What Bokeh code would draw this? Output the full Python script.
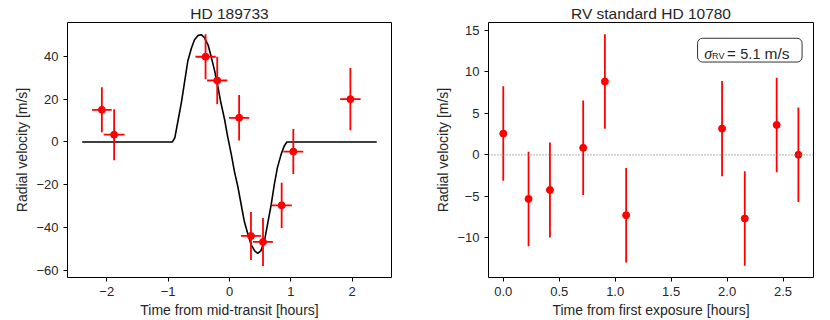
import numpy as np
from bokeh.plotting import figure
from bokeh.layouts import row
from bokeh.models import Range1d, Label, BoxAnnotation, Span, FixedTicker
from bokeh.embed import file_html
from bokeh.resources import INLINE

# ---------------- Data: HD 189733 (left panel) ----------------
t_hd = [-2.08, -1.88, -0.39, -0.20, 0.157, 0.35, 0.546, 0.85, 1.04, 1.97]
t_hd_err = [0.16, 0.17, 0.165, 0.165, 0.165, 0.162, 0.162, 0.165, 0.162, 0.167]
rv_hd = [15.0, 3.4, 39.8, 28.7, 11.3, -43.9, -46.7, -29.6, -4.5, 20.0]
rv_hd_err = [10.5, 11.9, 10.5, 11.1, 10.6, 11.2, 11.2, 10.6, 10.5, 14.5]

# model curve
t_model = [-2.4, -0.93, -0.89, -0.84, -0.78, -0.73, -0.68, -0.62, -0.57, -0.51,
           -0.46, -0.41, -0.35, -0.30, -0.24, -0.19, -0.14, -0.08, -0.03, 0.03,
           0.08, 0.14, 0.19, 0.24, 0.30, 0.35, 0.41, 0.46, 0.51, 0.57,
           0.62, 0.68, 0.73, 0.78, 0.84, 0.89, 0.935, 2.4]
rv_model = [0.0, 0.0, 2.0, 9.8, 19.1, 28.4, 37.7, 43.9, 47.7, 49.8,
            50.1, 48.8, 45.4, 40.0, 33.0, 26.0, 18.3, 10.5, 2.5, -5.9,
            -13.7, -21.4, -29.2, -36.9, -43.1, -47.8, -50.9, -52.0, -50.9, -46.2,
            -38.5, -29.2, -19.9, -12.1, -5.9, -2.0, 0.0, 0.0]

# ---------------- Data: RV standard HD 10780 (right panel) ----------------
t_std = [0.0, 0.226, 0.417, 0.714, 0.908, 1.098, 1.955, 2.158, 2.443, 2.637]
rv_std = [2.56, -5.32, -4.24, 0.84, 8.84, -7.28, 3.16, -7.68, 3.6, 0.0]
rv_std_err = [5.7, 5.7, 5.72, 5.7, 5.7, 5.7, 5.74, 5.7, 5.7, 5.7]

# tick values / labels
hd_xticks = [-2, -1, 0, 1, 2]
hd_xlabels = ["\u22122", "\u22121", "0", "1", "2"]
hd_yticks = [-60, -40, -20, 0, 20, 40]
hd_ylabels = ["\u221260", "\u221240", "\u221220", "0", "20", "40"]
std_xticks = [0.0, 0.5, 1.0, 1.5, 2.0, 2.5]
std_xlabels = ["0.0", "0.5", "1.0", "1.5", "2.0", "2.5"]
std_yticks = [-10, -5, 0, 5, 10, 15]
std_ylabels = ["\u221210", "\u22125", "0", "5", "10", "15"]

FONT = "Liberation Sans"
TXT = "#262626"


def style(p, xt, xl, yt, yl, xlabel, ylabel):
    p.outline_line_color = "black"
    p.outline_line_width = 1
    p.xgrid.visible = False
    p.ygrid.visible = False
    p.title.text_font = FONT
    p.title.text_font_size = "15.5px"
    p.title.text_font_style = "normal"
    p.title.text_color = TXT
    p.title.align = "center"
    p.title.standoff = 1
    for ax, ticks, labels, lab in ((p.xaxis[0], xt, xl, xlabel), (p.yaxis[0], yt, yl, ylabel)):
        ax.ticker = FixedTicker(ticks=ticks)
        ax.major_label_overrides = {t: l for t, l in zip(ticks, labels)}
        ax.axis_line_color = None
        ax.major_tick_in = 0
        ax.major_tick_out = 4
        ax.major_tick_line_color = "black"
        ax.minor_tick_line_color = None
        ax.major_label_text_font = FONT
        ax.major_label_text_font_size = "13px"
        ax.major_label_text_color = TXT
        ax.axis_label = lab
        ax.axis_label_text_font = FONT
        ax.axis_label_text_font_size = "14px"
        ax.axis_label_text_font_style = "normal"
        ax.axis_label_text_color = TXT
        ax.major_label_standoff = 5
        ax.axis_label_standoff = 3


# ---------------- Left figure ----------------
p1 = figure(width=415, height=320, output_backend="svg", toolbar_location=None,
            x_range=Range1d(-2.64, 2.64), y_range=Range1d(-63.3, 55.8),
            title="HD 189733",
            min_border_left=67, min_border_right=24, min_border_top=22, min_border_bottom=42)
style(p1, hd_xticks, hd_xlabels, hd_yticks, hd_ylabels,
      "Time from mid-transit [hours]", "Radial velocity [m/s]")

p1.line(t_model, rv_model, line_color="black", line_width=1.6)
a_t = np.array(t_hd); a_te = np.array(t_hd_err)
a_v = np.array(rv_hd); a_ve = np.array(rv_hd_err)
p1.segment(x0=a_t - a_te, y0=a_v, x1=a_t + a_te, y1=a_v, line_color="red", line_width=1.8)
p1.segment(x0=a_t, y0=a_v - a_ve, x1=a_t, y1=a_v + a_ve, line_color="red", line_width=1.8)
p1.scatter(t_hd, rv_hd, size=7, fill_color="red", line_color="red")

# ---------------- Right figure ----------------
p2 = figure(width=415, height=320, output_backend="svg", toolbar_location=None,
            x_range=Range1d(-0.132, 2.772), y_range=Range1d(-14.8, 15.96),
            title="RV standard HD 10780",
            min_border_left=73, min_border_right=17, min_border_top=22, min_border_bottom=42)
style(p2, std_xticks, std_xlabels, std_yticks, std_ylabels,
      "Time from first exposure [hours]", "Radial velocity [m/s]")

p2.add_layout(Span(location=0, dimension="width", line_color="#808080",
                   line_width=1.2, line_dash="1 2"))
b_t = np.array(t_std); b_v = np.array(rv_std); b_ve = np.array(rv_std_err)
p2.segment(x0=b_t, y0=b_v - b_ve, x1=b_t, y1=b_v + b_ve, line_color="red", line_width=1.8)
p2.scatter(t_std, rv_std, size=7, fill_color="red", line_color="red")

# annotation box sigma_RV
p2.add_layout(BoxAnnotation(left=1.736, right=2.670, bottom=11.19, top=14.06,
                            fill_color="white", fill_alpha=1.0,
                            line_color="#333333", line_alpha=1.0, line_width=1,
                            border_radius=5, level="overlay"))
p2.add_layout(Label(x=1.795, y=12.19, text="\u03c3", text_font="Liberation Serif",
                    text_font_style="italic", text_font_size="16px", text_color=TXT,
                    text_baseline="alphabetic", level="overlay"))
p2.add_layout(Label(x=1.866, y=11.91, text="RV", text_font=FONT,
                    text_font_size="9px", text_color=TXT,
                    text_baseline="alphabetic", level="overlay"))
p2.add_layout(Label(x=2.0, y=12.19, text="=", text_font=FONT,
                    text_font_size="15px", text_color=TXT,
                    text_baseline="alphabetic", level="overlay"))
p2.add_layout(Label(x=2.118, y=12.19, text="5.1", text_font=FONT,
                    text_font_size="14.5px", text_color=TXT,
                    text_baseline="alphabetic", level="overlay"))
p2.add_layout(Label(x=2.335, y=12.19, text="m/s", text_font=FONT,
                    text_font_size="15.5px", text_color=TXT,
                    text_baseline="alphabetic", level="overlay"))

layout = row(p1, p2)
open("out.html", "w").write(file_html(layout, INLINE))
